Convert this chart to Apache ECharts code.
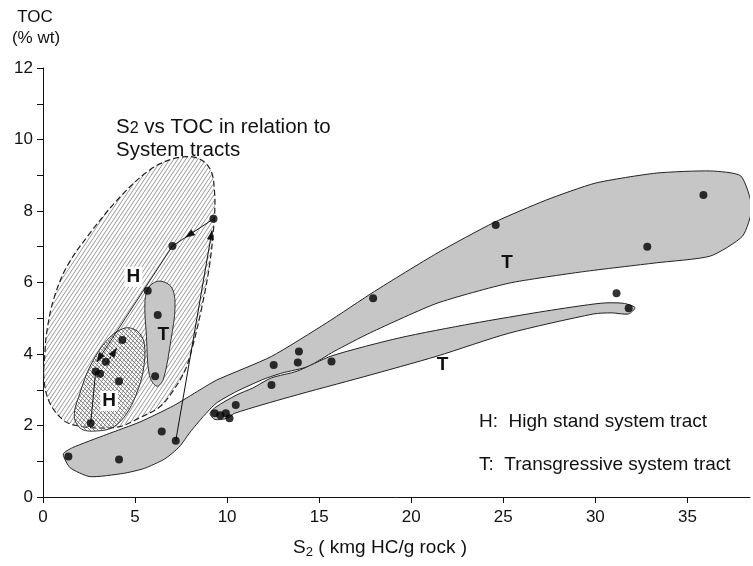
<!DOCTYPE html>
<html><head><meta charset="utf-8">
<script src="https://cdn.jsdelivr.net/npm/echarts@6/dist/echarts.min.js"></script>
<style>html,body{margin:0;padding:0;background:#fff}#c{width:753px;height:566px}</style>
</head><body><div id="c"></div>
<script>
// ---------- data ----------
const s2Values  = [1.38,2.59,2.86,3.10,3.41,4.13,4.31,4.13,5.69,6.23,6.09,6.45,7.03,7.21,9.26,9.33,9.63,9.93,10.13,10.47,12.41,12.53,13.84,13.90,15.67,17.93,24.59,31.15,31.81,32.82,35.87];
const tocValues = [1.13,2.06,3.51,3.45,3.78,3.24,4.39,1.05,5.77,5.09,3.38,1.83,7.02,1.57,7.78,2.34,2.29,2.34,2.20,2.57,3.13,3.69,3.76,4.07,3.79,5.56,7.61,5.70,5.28,7.00,8.45];
const xTicks = [0,5,10,15,20,25,30,35];
const yTicks = [0,2,4,6,8,10,12];
const xMax = 38.4;

// envelope outlines (S2, TOC)
const envelopeOuterH = [[0.05,3.3],[0.1,4.0],[0.2,4.6],[0.56,5.5],[1.29,6.44],[2.55,7.38],[4.2,8.4],[5.8,9.15],[7.2,9.48],[8.4,9.48],[9.1,9.15],[9.32,8.5],[9.3,7.75],[9.05,6.5],[8.63,5.32],[8.17,4.3],[7.72,3.55],[7.09,2.99],[6.36,2.53],[5.27,2.22],[4.18,1.97],[3.0,1.93],[1.8,2.0],[1.1,2.15],[0.35,2.65]];
const envelopeInnerH = [[1.7,2.25],[2.0,2.9],[2.6,3.7],[3.5,4.4],[4.4,4.72],[5.1,4.65],[5.5,4.3],[5.45,3.55],[5.05,2.85],[4.5,2.3],[3.8,1.95],[3.0,1.85],[2.1,1.9]];
const envelopeSmallT = [[6.36,6.04],[5.8,5.9],[5.54,5.5],[5.62,4.5],[5.78,3.4],[6.18,3.1],[6.54,3.3],[6.95,4.4],[7.17,5.3],[7.0,5.85]];
const envelopeUpperT = [[1.1,1.2],[1.6,1.38],[3.46,1.75],[5.27,2.1],[7.08,2.55],[8.53,3.0],[9.43,3.27],[12.4,3.93],[15.4,4.87],[18.0,5.75],[21.4,6.82],[24.5,7.68],[27.3,8.3],[30.0,8.78],[33.3,9.06],[36.25,9.12],[37.9,8.98],[38.5,8.1],[38.0,7.3],[36.25,6.74],[33.3,6.55],[29.3,6.3],[25.3,5.98],[21.4,5.42],[17.8,4.6],[15.8,4.07],[14.4,3.65],[13.0,3.47],[12.0,3.3],[10.5,2.95],[9.4,2.62],[8.7,2.25],[8.0,1.82],[7.4,1.4],[6.6,1.06],[5.5,0.8],[4.36,0.66],[2.55,0.57],[1.47,0.82]];
const envelopeLowerT = [[9.07,2.34],[9.4,2.52],[10.5,2.85],[11.4,3.05],[12.4,3.33],[13.8,3.52],[15.7,3.95],[19.35,4.45],[23.3,4.85],[27.3,5.2],[30.3,5.42],[31.5,5.42],[32.15,5.3],[31.8,5.12],[30.9,5.15],[29.9,5.12],[25.3,4.58],[21.4,3.94],[17.4,3.36],[13.4,2.8],[10.4,2.34],[10.0,2.2],[9.33,2.17]];

// trend paths (S2, TOC)
const pathUp      = [[7.21,1.57],[9.18,7.45]];
const pathBack    = [[9.26,7.78],[7.03,7.02]];
const pathDown    = [[7.03,7.02],[2.93,3.78]];
const pathDashed  = [[3.46,3.74],[4.0,4.16]];
const pathBottomH = [[2.59,2.06],[2.86,3.51]];

// tract letters
const tractText = ['H','T','H','T','T'];
const tractS2   = [4.91,6.54,3.59,25.2,21.7];
const tractToc  = [6.16,4.53,2.69,6.54,3.69];

// ---------- helpers ----------
const FONT = 'Liberation Sans, Arial, Helvetica, sans-serif';
function hatch(w, h, color, width, backslash){
  const c = document.createElement('canvas'); c.width = w; c.height = h;
  const g = c.getContext('2d'); g.strokeStyle = color; g.lineWidth = width;
  g.beginPath();
  for(let k=-1;k<=1;k++){
    const o = k*w;
    if(backslash){ g.moveTo(o-w,-h); g.lineTo(o+2*w,2*h); }
    else { g.moveTo(o-w,2*h); g.lineTo(o+2*w,-h); }
  }
  g.stroke();
  return {type:'pattern', image:c, repeat:'repeat'};
}
function polygonSeries(pts, z, style, smooth){
  return {type:'custom', data:pts, z:z, clip:true, silent:true, encode:{x:0,y:1},
    renderItem:function(params, api){
      if(params.dataIndex!==0) return null;
      return {type:'polygon', shape:{points:pts.map(q=>api.coord(q)), smooth:smooth}, style:style};
    }};
}
function pathSeries(pts, z, opts){
  return {type:'custom', data:pts, z:z, clip:true, silent:true, encode:{x:0,y:1},
    renderItem:function(params, api){
      if(params.dataIndex!==0) return null;
      const p = pts.map(q=>api.coord(q));
      const children = [{type:'polyline', shape:{points:p},
        style:{stroke:'#111', lineWidth:opts.width||1, fill:null, lineDash:opts.dash||null}}];
      if(opts.headAt!==undefined){
        const a = p[p.length-2], b = p[p.length-1];
        const tx = a[0]+(b[0]-a[0])*opts.headAt, ty = a[1]+(b[1]-a[1])*opts.headAt;
        const dx = b[0]-a[0], dy = b[1]-a[1], L = Math.hypot(dx,dy);
        const ux = dx/L, uy = dy/L, len = 9, hw = 3.2;
        const bx = tx-ux*len, by = ty-uy*len;
        children.push({type:'polygon', shape:{points:[[tx,ty],[bx-uy*hw,by+ux*hw],[bx+uy*hw,by-ux*hw]]},
          style:{fill:'#111', stroke:'#111', lineWidth:0.5}});
      }
      return {type:'group', children:children};
    }};
}

const chart = echarts.init(document.getElementById('c'), null, {renderer:'canvas'});
const dots = s2Values.map((x,i)=>[x,tocValues[i]]);
const tracts = tractText.map((t,i)=>[tractS2[i],tractToc[i],t]);

chart.setOption({
  animation:false,
  backgroundColor:'#fff',
  grid:{left:43, right:3, top:68, bottom:69, containLabel:false},
  xAxis:{type:'value', min:0, max:xMax, interval:5,
    axisLine:{lineStyle:{color:'#111', width:1}},
    axisTick:{show:true, length:6, lineStyle:{color:'#111'}, customValues:xTicks},
    axisLabel:{color:'#111', fontSize:17, fontFamily:FONT, margin:12, customValues:xTicks},
    splitLine:{show:false}},
  yAxis:{type:'value', min:0, max:12, interval:2,
    axisLine:{show:true, lineStyle:{color:'#111', width:1}},
    axisTick:{show:true, length:6, lineStyle:{color:'#111'}, customValues:yTicks},
    minorTick:{show:true, splitNumber:2, length:6, lineStyle:{color:'#111'}},
    axisLabel:{color:'#111', fontSize:17, fontFamily:FONT, margin:10, customValues:yTicks},
    splitLine:{show:false}},
  graphic:[
    {type:'text', x:35, y:17, style:{text:'TOC', font:'17px '+FONT, fill:'#111', align:'center', verticalAlign:'middle'}},
    {type:'text', x:36, y:38, style:{text:'(% wt)', font:'17px '+FONT, fill:'#111', align:'center', verticalAlign:'middle'}},
    {type:'text', x:380, y:548, style:{text:'S{sub|2} ( kmg HC/g rock )', font:'19px '+FONT, fill:'#111', align:'center', verticalAlign:'middle',
      rich:{sub:{fontSize:13, fontFamily:FONT, fill:'#111', verticalAlign:'bottom', padding:[8,0,0,0]}}}},
    {type:'text', x:116, y:127, style:{text:'S{sub|2} vs TOC in relation to', font:'20.5px '+FONT, fill:'#111', align:'left', verticalAlign:'middle',
      rich:{sub:{fontSize:16, fontFamily:FONT, fill:'#111', padding:[4,0,0,0]}}}},
    {type:'text', x:116, y:150, style:{text:'System tracts', font:'20.5px '+FONT, fill:'#111', align:'left', verticalAlign:'middle'}},
    {type:'text', x:479, y:422, style:{text:'H:  High stand system tract', font:'19px '+FONT, fill:'#111', align:'left', verticalAlign:'middle'}},
    {type:'text', x:479, y:465, style:{text:'T:  Transgressive system tract', font:'19px '+FONT, fill:'#111', align:'left', verticalAlign:'middle'}}
  ],
  series:[
    polygonSeries(envelopeOuterH, 1, {fill:hatch(4,6,'#8c8c8c',0.9,false), stroke:'#222', lineWidth:1.2, lineDash:[6,3]}, 0.35),
    polygonSeries(envelopeInnerH, 2, {fill:hatch(4,4,'#777',0.9,true), stroke:'#333', lineWidth:1}, 0.35),
    polygonSeries(envelopeUpperT, 3, {fill:'#c6c6c6', stroke:'#222', lineWidth:1}, 0.2),
    polygonSeries(envelopeLowerT, 3, {fill:'#c6c6c6', stroke:'#222', lineWidth:1}, 0.25),
    polygonSeries(envelopeSmallT, 3, {fill:'#c6c6c6', stroke:'#333', lineWidth:1}, 0.35),
    pathSeries(pathUp, 5, {headAt:1}),
    pathSeries(pathBack, 5, {headAt:0.68}),
    pathSeries(pathDown, 5, {headAt:1, width:0.9}),
    pathSeries(pathDashed, 5, {headAt:1, dash:[3,2]}),
    pathSeries(pathBottomH, 5, {}),
    {type:'scatter', data:dots, symbol:'circle', symbolSize:8, z:8, silent:true,
      itemStyle:{color:'#000'}},
    {type:'custom', data:tracts, z:9, silent:true, clip:true, encode:{x:0,y:1},
      renderItem:function(params, api){
        const t = tracts[params.dataIndex];
        const p = api.coord([t[0],t[1]]);
        return {type:'text', x:p[0], y:p[1], style:{text:t[2], font:'bold 19px '+FONT, fill:'#111',
          align:'center', verticalAlign:'middle',
          backgroundColor: t[2]==='H' ? '#fff' : null, padding:[1,2,0,2]}};
      }}
  ]
});
</script></body></html>
